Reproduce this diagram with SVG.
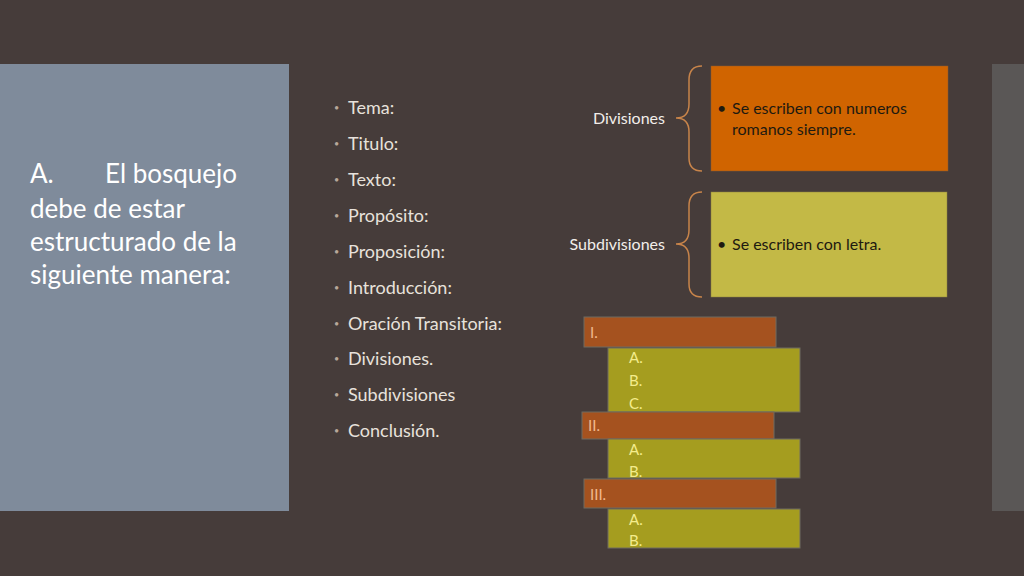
<svg xmlns="http://www.w3.org/2000/svg" width="1024" height="576" viewBox="0 0 1024 576">
<style>
text{font-family:"Lato","Liberation Sans",sans-serif}
.l{fill:#e8e2dc;font-size:18px}
.b{fill:#b8a89a;font-size:9px}
.lab{fill:#f2eeea;font-size:16px}
.dk{fill:#1e1a10;font-size:16px}
.rom{fill:#f2b98e;font-size:15px}
.let{fill:#f4ec8c;font-size:15px}
.br{fill:none;stroke:#c8844a;stroke-width:1.5}
.ro{fill:#a5521f;stroke:#6e6a60;stroke-width:1}
.ol{fill:#a59d1f;stroke:#6e6a60;stroke-width:1}
</style>
<rect width="1024" height="576" fill="#463c3a"/>
<rect x="0" y="64" width="289" height="447" fill="#7f8b9b"/>
<rect x="992" y="64" width="32" height="447" fill="#5a5756"/>
<text fill="#ffffff" font-size="26" style="font-size:26px"><tspan x="30" y="183">A.</tspan><tspan x="105" y="183">El bosquejo</tspan><tspan x="30" y="218">debe de estar</tspan><tspan x="30" y="251">estructurado de la</tspan><tspan x="30" y="284">siguiente manera:</tspan></text>
<g id="list">
<text class="b" x="334" y="111">•</text><text class="l" x="348" y="114">Tema:</text>
<text class="b" x="334" y="147">•</text><text class="l" x="348" y="150">Titulo:</text>
<text class="b" x="334" y="183">•</text><text class="l" x="348" y="186">Texto:</text>
<text class="b" x="334" y="219">•</text><text class="l" x="348" y="222">Propósito:</text>
<text class="b" x="334" y="255">•</text><text class="l" x="348" y="258">Proposición:</text>
<text class="b" x="334" y="291">•</text><text class="l" x="348" y="294">Introducción:</text>
<text class="b" x="334" y="327">•</text><text class="l" x="348" y="330">Oración Transitoria:</text>
<text class="b" x="334" y="362">•</text><text class="l" x="348" y="365">Divisiones.</text>
<text class="b" x="334" y="398">•</text><text class="l" x="348" y="401">Subdivisiones</text>
<text class="b" x="334" y="434">•</text><text class="l" x="348" y="437">Conclusión.</text>
</g>
<g id="divisiones">
<text class="lab" x="665" y="124" text-anchor="end">Divisiones</text>
<path class="br" d="M702,66 Q689,66 689,80 L689,104 Q689,118 676,118 Q689,118 689,132 L689,158 Q689,171 702,171"/>
<rect x="711" y="66" width="237" height="105" fill="#d06400" stroke="#8a5a30" stroke-width="0.5"/>
<text class="dk" x="717" y="114">•</text><text class="dk" x="732" y="114">Se escriben con numeros</text>
<text class="dk" x="732" y="135">romanos siempre.</text>
</g>
<g id="subdivisiones">
<text class="lab" x="665" y="250" text-anchor="end">Subdivisiones</text>
<path class="br" d="M702,192 Q689,192 689,206 L689,230 Q689,244 676,244 Q689,244 689,258 L689,284 Q689,297 702,297"/>
<rect x="711" y="192" width="236" height="105" fill="#c3b946" stroke="#8a8040" stroke-width="0.5"/>
<text class="dk" x="717" y="250">•</text><text class="dk" x="732" y="250">Se escriben con letra.</text>
</g>
<g id="outline">
<rect class="ro" x="584" y="317" width="192" height="30"/>
<text class="rom" x="590" y="338">I.</text>
<rect class="ol" x="608" y="348" width="192" height="64"/>
<text class="let" x="629" y="363">A.</text><text class="let" x="629" y="386">B.</text><text class="let" x="629" y="409">C.</text>
<rect class="ro" x="582" y="412" width="192" height="27"/>
<text class="rom" x="588" y="431">II.</text>
<rect class="ol" x="608" y="439" width="192" height="39"/>
<text class="let" x="629" y="455">A.</text><text class="let" x="629" y="477">B.</text>
<rect class="ro" x="584" y="479" width="192" height="29"/>
<text class="rom" x="590" y="500">III.</text>
<rect class="ol" x="608" y="509" width="192" height="39"/>
<text class="let" x="629" y="525">A.</text><text class="let" x="629" y="546">B.</text>
</g>
<g id="connectors"></g>
</svg>
